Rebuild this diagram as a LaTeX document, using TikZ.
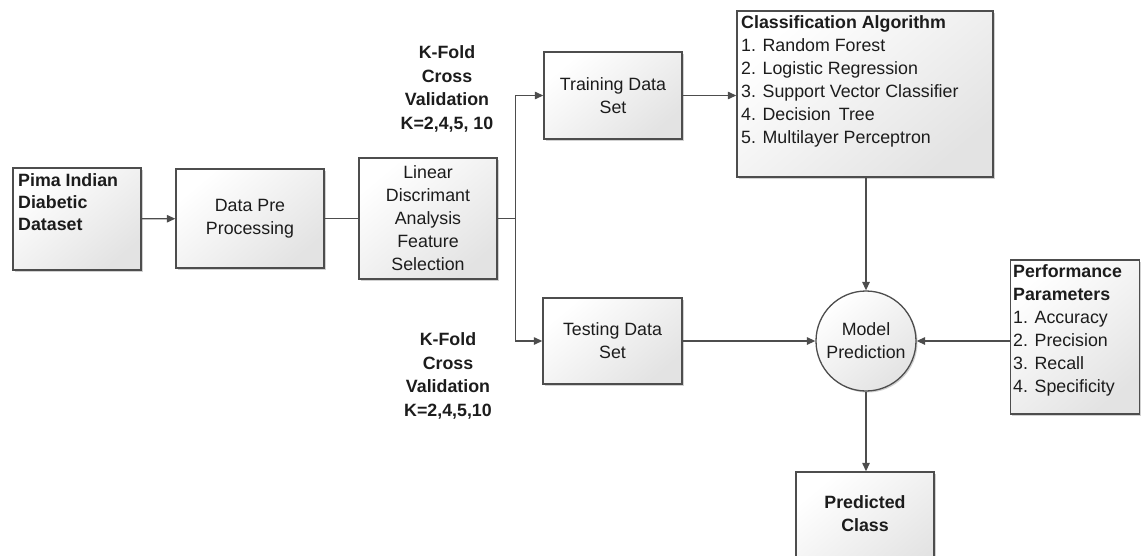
\documentclass[tikz,border=0pt]{standalone}
\usepackage{fontspec}
\setmainfont{Liberation Sans}
\usetikzlibrary{arrows.meta,shadows,positioning}
\definecolor{edge}{HTML}{4D4D4D}
\definecolor{ink}{HTML}{1C1C1C}
\tikzset{
  x=1pt, y=-1pt,
  every node/.style={text=ink, font=\fontsize{17.8}{23}\selectfont},
  box/.style={draw=edge, line width=1.4pt, rectangle, inner sep=0pt,
    top color=white, bottom color=black!11, shading angle=40,
    drop shadow={shadow xshift=1.5pt, shadow yshift=-1.5pt, opacity=0.18, fill=black}},
  ball/.style={draw=edge, line width=1.3pt, circle, inner sep=0pt,
    top color=white, bottom color=black!11, shading angle=40,
    drop shadow={shadow xshift=1.5pt, shadow yshift=-1.5pt, opacity=0.18, fill=black}},
  boxtext/.style={align=center, inner sep=0pt},
  listtext/.style={align=left, anchor=north west, inner sep=0pt},
  kfold/.style={align=center, inner sep=0pt, font=\bfseries\fontsize{17.8}{23.5}\selectfont},
  arr/.style={draw=edge, line width=1.3pt, -{Triangle[length=8.5pt,width=7.5pt]}},
  link/.style={draw=edge, line width=1.3pt}
}
\begin{document}
\begin{tikzpicture}
\useasboundingbox (0,0) rectangle (1141,555);

% input dataset
\node[box, minimum width=128pt, minimum height=102pt] (pima) at (77,219) {};
\node[listtext, font=\bfseries\fontsize{17.8}{22}\selectfont] (pimatext) at (18,173)
  {Pima Indian\\Diabetic\\Dataset};

% preprocessing and feature selection
\node[box, minimum width=148pt, minimum height=99pt] (pre) at (250,218.5)
  {\begin{tabular}{@{}c@{}}Data Pre\\Processing\end{tabular}};
\node[box, minimum width=138pt, minimum height=121pt, boxtext] (lda) at (428,218.5)
  {Linear\\Discrimant\\Analysis\\Feature\\Selection};

% data split
\node[box, minimum width=138pt, minimum height=87pt, boxtext] (train) at (613,95.5)
  {Training Data\\Set};
\node[box, minimum width=139pt, minimum height=86pt, boxtext] (test) at (612.5,341)
  {Testing Data\\Set};

\node[kfold] (kftop) at (447,89) {K-Fold\\Cross\\Validation\\K=2,4,5, 10};
\node[kfold] (kfbot) at (448,376) {K-Fold\\Cross\\Validation\\K=2,4,5,10};

% classifiers
\node[box, minimum width=256pt, minimum height=166pt] (cls) at (865,94) {};
\node[listtext] (clstext) at (741,15)
  {\textbf{Classification Algorithm}\\
   1. Random Forest\\
   2. Logistic Regression\\
   3. Support Vector Classifier\\
   4. Decision\, Tree\\
   5. Multilayer Perceptron};

% model prediction
\node[ball, minimum size=100pt, boxtext] (model) at (866,341)
  {Model\\Prediction};

% performance measures
\node[box, minimum width=129pt, minimum height=154pt] (perf) at (1075,337) {};
\node[listtext] (perftext) at (1013,264)
  {\textbf{Performance}\\
   \textbf{Parameters}\\
   1. Accuracy\\
   2. Precision\\
   3. Recall\\
   4. Specificity};

% output
\node[box, minimum width=138pt, minimum height=110pt] (pred) at (865,527) {};
\node[boxtext, font=\bfseries\fontsize{17.8}{23}\selectfont] (predtext) at (865,514)
  {Predicted\\Class};

% connectors
\draw[arr] (pima) -- (pre);
\draw[link] (pre) -- (lda);
\coordinate (split) at ([xshift=18pt]lda.east);
\draw[link] (lda.east) -- (split);
\draw[arr] (split) |- (train.west);
\draw[arr] (split) |- (test.west);
\draw[arr] (train.east) -- (train.east -| cls.west);
\draw[arr] (cls.south -| model.north) -- (model.north);
\draw[arr] (test.east |- model.west) -- (model.west);
\draw[arr] (model -| perf.west) -- (model.east);
\draw[arr] (model.south) -- (model.south |- pred.north);
\end{tikzpicture}
\end{document}
